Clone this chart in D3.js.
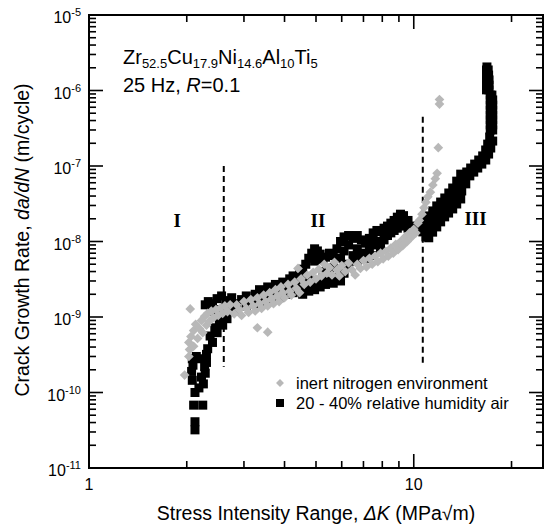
<!DOCTYPE html>
<html>
<head>
<meta charset="utf-8">
<script src="https://cdn.jsdelivr.net/npm/d3@7/dist/d3.min.js"></script>
<style>
body { margin: 0; background: #fff; }
text { font-family: "Liberation Sans", Arial, sans-serif; }
</style>
</head>
<body>
<div id="chart"></div>
<script>
// [deltaK (MPa sqrt m), da/dN (m/cycle)]
var airData = [
	// stage I
	[2.12,3.2e-11],[2.12,4.1e-11],[2.10,6.8e-11],[2.24,6.8e-11],
	[2.12,1.0e-10],[2.18,1.15e-10],[2.25,1.3e-10],[2.08,1.45e-10],[2.22,1.6e-10],[2.28,1.8e-10],
	[2.07,1.9e-10],[2.09,2.3e-10],[2.27,2.2e-10],[2.08,2.8e-10],[2.14,3.0e-10],[2.22,2.8e-10],
	[2.30,2.5e-10],[2.30,3.2e-10],
	[2.32,3.8e-10],[2.40,4.6e-10],[2.36,5.6e-10],[2.48,6.2e-10],[2.44,7.2e-10],[2.58,7.8e-10],
	[2.52,9.0e-10],[2.66,9.5e-10],[2.60,1.1e-9],
	[2.28,1.45e-9],[2.33,1.6e-9],[2.40,1.5e-9],[2.48,1.75e-9],[2.56,1.9e-9],[2.64,1.65e-9],
	[2.70,1.35e-9],[2.38,1.2e-9],[2.50,1.25e-9],
	// stage II
	[2.75,1.3e-9],[2.75,1.8e-9],[2.85,1.5e-9],[2.85,1.2e-9],[2.95,1.7e-9],[3.05,1.4e-9],[3.05,1.9e-9],
	[3.15,1.6e-9],[3.25,2.0e-9],[3.25,1.5e-9],[3.35,1.8e-9],[3.35,2.3e-9],[3.45,1.6e-9],[3.45,2.1e-9],
	[3.55,2.5e-9],[3.55,1.9e-9],[3.65,2.2e-9],[3.65,1.7e-9],[3.75,2.7e-9],[3.75,2.0e-9],[3.85,2.4e-9],
	[3.85,1.8e-9],[3.95,2.9e-9],[3.95,2.2e-9],[4.05,2.6e-9],[4.05,2.0e-9],[4.15,3.2e-9],[4.15,2.3e-9],
	[4.25,3.5e-9],[4.25,2.1e-9],[4.35,3.0e-9],[4.35,2.5e-9],[4.45,3.9e-9],[4.45,2.2e-9],
	[4.55,4.3e-9],[4.55,2.0e-9],[4.55,2.8e-9],[4.65,5.0e-9],[4.65,2.4e-9],[4.75,6.0e-9],[4.75,2.2e-9],
	[4.75,3.2e-9],[4.85,7.0e-9],[4.85,2.6e-9],[4.95,8.0e-9],[4.95,5.5e-9],[4.95,2.3e-9],[5.05,7.5e-9],
	[5.05,3.0e-9],[5.15,6.8e-9],[5.15,2.5e-9],[5.25,5.8e-9],[5.25,3.3e-9],[5.35,6.2e-9],[5.35,2.7e-9],
	[5.35,4.0e-9],[5.5,7.0e-9],[5.5,3.0e-9],[5.65,6.5e-9],[5.65,2.8e-9],[5.65,4.5e-9],[5.8,8.0e-9],
	[5.8,3.3e-9],[5.95,1.0e-8],[5.95,6.0e-9],[5.95,3.0e-9],[6.1,1.15e-8],[6.1,7.5e-9],[6.1,3.8e-9],
	[6.3,1.2e-8],[6.3,9.0e-9],[6.3,5.0e-9],[6.5,1.1e-8],[6.5,6.5e-9],[6.7,1.2e-8],[6.7,8.0e-9],
	[6.7,5.5e-9],[6.9,1.05e-8],[6.9,7.0e-9],[7.1,9.5e-9],[7.1,6.0e-9],[7.3,1.1e-8],[7.3,7.5e-9],
	[7.5,1.3e-8],[7.5,9.0e-9],[7.5,6.5e-9],[7.7,1.4e-8],[7.7,1.0e-8],[7.9,1.35e-8],[7.9,8.5e-9],
	[8.1,1.5e-8],[8.1,1.05e-8],[8.3,1.6e-8],[8.3,1.2e-8],[8.5,1.75e-8],[8.5,1.3e-8],[8.7,1.9e-8],
	[8.7,1.4e-8],[8.9,2.1e-8],[8.9,1.5e-8],[9.1,2.3e-8],[9.1,1.7e-8],[9.3,2.2e-8],[9.3,1.6e-8],
	[9.6,1.9e-8],[9.6,1.5e-8],[9.9,1.6e-8],[9.9,1.4e-8],[10.2,1.5e-8],[10.5,1.6e-8],
	// stage III
	[10.66,1.34e-8],[10.96,1.6e-8],[11.28,1.87e-8],[11.6,2.18e-8],[11.94,2.54e-8],[12.28,2.86e-8],
	[12.64,3.24e-8],[13.0,3.77e-8],[13.37,4.39e-8],[13.75,5.43e-8],[14.15,6.73e-8],
	[10.9,1.15e-8],[11.2,1.38e-8],[11.53,1.6e-8],[11.85,1.87e-8],[12.2,2.18e-8],[12.55,2.46e-8],
	[12.92,2.79e-8],[13.3,3.24e-8],[13.66,3.78e-8],[14.05,4.67e-8],[14.46,5.8e-8],
	[10.5,1.56e-8],[10.8,1.86e-8],[11.12,2.18e-8],[11.44,2.54e-8],[11.77,2.96e-8],[12.1,3.33e-8],
	[12.46,3.77e-8],[12.82,4.39e-8],[13.18,5.11e-8],[13.56,6.3e-8],[13.95,7.8e-8],
	[11.12,1.12e-8],[11.43,1.33e-8],[11.77,1.56e-8],[12.1,1.82e-8],[12.45,2.12e-8],[12.8,2.38e-8],
	[13.18,2.7e-8],[13.56,3.14e-8],[13.95,3.66e-8],
	[14.56,8.33e-8],[14.97,9.4e-8],[15.4,1.06e-7],[15.85,1.2e-7],[16.3,1.36e-7],[16.65,1.63e-7],
	[16.89,1.95e-7],[17.13,2.42e-7],
	[14.88,7.4e-8],[15.3,8.3e-8],[15.74,9.4e-8],[16.2,1.06e-7],[16.66,1.2e-7],[17.0,1.44e-7],
	[17.26,1.73e-7],[17.5,2.14e-7],
	[17.2,3.0e-7],[17.5,3.0e-7],[17.2,3.5e-7],[17.5,3.5e-7],[17.2,4.1e-7],[17.5,4.1e-7],
	[17.2,4.7e-7],[17.5,4.7e-7],[17.2,5.5e-7],[17.5,5.5e-7],[17.2,6.4e-7],[17.5,6.4e-7],
	[17.2,7.5e-7],[17.5,7.5e-7],[17.2,8.7e-7],[17.4,8.7e-7],
	[16.75,1.02e-6],[17.05,1.02e-6],[16.75,1.18e-6],[17.05,1.18e-6],[16.75,1.38e-6],[17.05,1.38e-6],
	[16.75,1.6e-6],[17.0,1.6e-6],[16.75,1.87e-6],[16.95,1.87e-6],[16.8,2.05e-6]
];

var nitrogenData = [
	// stage I
	[1.97,1.7e-10],[2.05,1.28e-9],
	[2.03,3.0e-10],[2.04,3.7e-10],[2.03,4.6e-10],[2.06,5.5e-10],[2.1,4.1e-10],[2.1,6.6e-10],
	[2.13,8.0e-10],[2.16,5.2e-10],[2.19,7.0e-10],[2.22,9.0e-10],[2.24,6.2e-10],[2.27,1.02e-9],
	[2.3,7.8e-10],[2.32,1.12e-9],[2.35,8.8e-10],[2.38,1.2e-9],[2.42,9.8e-10],[2.46,1.25e-9],
	[2.5,1.05e-9],[2.54,1.32e-9],[2.58,1.12e-9],[2.62,1.4e-9],[2.67,1.18e-9],[2.72,1.45e-9],
	// stage II
	[2.8,1.1e-9],[2.85,1.45e-9],[2.9,1.25e-9],[2.95,1.05e-9],[3.0,1.6e-9],[3.05,1.3e-9],[3.1,1.15e-9],
	[3.15,1.7e-9],[3.2,1.4e-9],[3.25,1.2e-9],[3.3,7.2e-10],[3.3,1.8e-9],[3.35,1.5e-9],[3.4,1.3e-9],
	[3.45,1.95e-9],[3.5,1.6e-9],[3.55,6.3e-10],[3.55,1.4e-9],[3.6,2.1e-9],[3.65,1.75e-9],[3.7,1.5e-9],
	[3.75,2.3e-9],[3.8,1.9e-9],[3.85,1.6e-9],[3.9,2.5e-9],[3.95,2.1e-9],[4.0,1.8e-9],[4.1,2.7e-9],
	[4.15,2.2e-9],[4.2,1.95e-9],[4.3,2.9e-9],[4.35,2.4e-9],[4.4,4.4e-9],[4.45,2.1e-9],[4.5,3.2e-9],
	[4.6,2.7e-9],[4.7,3.6e-9],[4.8,2.9e-9],[4.9,3.9e-9],[5.0,3.2e-9],[5.1,4.3e-9],[5.2,3.5e-9],
	[5.3,5.0e-9],[5.4,3.8e-9],[5.5,4.5e-9],[5.6,3.6e-9],[5.7,5.3e-9],[5.8,4.2e-9],[5.9,3.5e-9],
	[6.0,4.8e-9],[6.15,4.0e-9],[6.3,5.2e-9],[6.45,4.2e-9],[6.6,3.6e-9],[6.7,5.0e-9],[6.85,4.4e-9],
	[7.0,5.6e-9],[7.15,4.6e-9],[7.3,6.0e-9],[7.45,5.0e-9],[7.6,6.4e-9],[7.75,5.4e-9],[7.9,7.0e-9],
	[8.05,5.9e-9],[8.2,7.4e-9],[8.35,6.4e-9],[8.5,8.2e-9],[8.65,7.0e-9],[8.8,9.2e-9],[8.95,7.8e-9],
	[9.1,1.0e-8],[9.25,8.8e-9],[9.4,1.15e-8],[9.55,1.0e-8],[9.7,1.3e-8],[9.85,1.15e-8],[10.0,1.45e-8],
	[10.15,1.3e-8],[10.3,1.75e-8],
	// stage III
	[10.4,1.9e-8],[10.6,2.3e-8],[10.75,2.8e-8],[10.9,3.3e-8],[11.05,3.9e-8],[11.25,4.5e-8],
	[11.45,5.6e-8],[11.65,6.8e-8],[11.8,8.0e-8],[11.9,1.75e-7],[12.0,6.6e-7],[12.0,7.6e-7]
];

var xTickLabels = [1, 10];
var xMinorTicks = [2, 3, 4, 5, 6, 7, 8, 9, 20];
var yDecades = [-11, -10, -9, -8, -7, -6, -5];

var stageBounds = [{k: 2.6, top: 1.0e-7}, {k: 10.66, top: 4.5e-7}];
var stageBottom = 2.2e-10;
var stageLabels = [
	{text: "I", k: 1.87, rate: 1.56e-8},
	{text: "II", k: 5.07, rate: 1.56e-8},
	{text: "III", k: 15.5, rate: 1.65e-8}
];

var margin = {top: 15, right: 6, bottom: 59, left: 89},
	W = 549, H = 527,
	w = W - margin.left - margin.right,
	h = H - margin.top - margin.bottom;

var svg = d3.select("#chart")
	.append("svg")
	.attr("width", W)
	.attr("height", H);

var g = svg.append("g")
	.attr("transform", "translate(" + margin.left + "," + margin.top + ")");

var x = d3.scaleLog().domain([1, 25]).range([0, w]);
var y = d3.scaleLog().domain([1e-11, 1e-5]).range([h, 0]);

// ticks, all pointing inward, on four sides
var majorLen = 14, minorLen = 7;
var xTicks = xTickLabels.map(function(v){ return {v: v, len: majorLen}; })
	.concat(xMinorTicks.map(function(v){ return {v: v, len: minorLen}; }));
var yTicks = [];
yDecades.forEach(function(d){
	yTicks.push({v: Math.pow(10, d), len: majorLen});
	if (d < -5) {
		for (var m = 2; m <= 9; m++) yTicks.push({v: m * Math.pow(10, d), len: minorLen});
	}
});

var ticks = g.append("g").attr("stroke", "#000").attr("stroke-width", 1.6);
ticks.selectAll(".xb").data(xTicks).enter().append("line")
	.attr("x1", function(d){ return x(d.v); }).attr("x2", function(d){ return x(d.v); })
	.attr("y1", h).attr("y2", function(d){ return h - d.len; });
ticks.selectAll(".xt").data(xTicks).enter().append("line")
	.attr("x1", function(d){ return x(d.v); }).attr("x2", function(d){ return x(d.v); })
	.attr("y1", 0).attr("y2", function(d){ return d.len; });
ticks.selectAll(".yl").data(yTicks).enter().append("line")
	.attr("y1", function(d){ return y(d.v); }).attr("y2", function(d){ return y(d.v); })
	.attr("x1", 0).attr("x2", function(d){ return d.len; });
ticks.selectAll(".yr").data(yTicks).enter().append("line")
	.attr("y1", function(d){ return y(d.v); }).attr("y2", function(d){ return y(d.v); })
	.attr("x1", w).attr("x2", function(d){ return w - d.len; });

// stage boundaries
g.selectAll(".bound").data(stageBounds).enter().append("line")
	.attr("x1", function(d){ return x(d.k); }).attr("x2", function(d){ return x(d.k); })
	.attr("y1", function(d){ return y(d.top); }).attr("y2", y(stageBottom))
	.attr("stroke", "#000").attr("stroke-width", 2)
	.attr("stroke-dasharray", "6,4");

g.selectAll(".stage").data(stageLabels).enter().append("text")
	.attr("x", function(d){ return x(d.k); })
	.attr("y", function(d){ return y(d.rate); })
	.attr("text-anchor", "middle")
	.style("font-family", "'Liberation Serif', 'Times New Roman', serif")
	.style("font-weight", "bold")
	.style("font-size", "19px")
	.text(function(d){ return d.text; });

// data
var sq = 9;
g.append("g").selectAll("rect").data(airData).enter().append("rect")
	.attr("x", function(d){ return x(d[0]) - sq / 2; })
	.attr("y", function(d){ return y(d[1]) - sq / 2; })
	.attr("width", sq).attr("height", sq)
	.attr("fill", "#000");

var diamond = d3.symbol().type(d3.symbolDiamond2).size(60);
g.append("g").selectAll("path").data(nitrogenData).enter().append("path")
	.attr("d", diamond)
	.attr("transform", function(d){ return "translate(" + x(d[0]) + "," + y(d[1]) + ")"; })
	.attr("fill", "#b8b8b8");

// frame
g.append("rect")
	.attr("width", w).attr("height", h)
	.attr("fill", "none").attr("stroke", "#000").attr("stroke-width", 2);

// tick labels
g.selectAll(".xlab").data(xTickLabels).enter().append("text")
	.attr("x", function(d){ return x(d); })
	.attr("y", h + 22)
	.attr("text-anchor", "middle")
	.style("font-size", "16px")
	.text(function(d){ return d; });

var ylab = g.selectAll(".ylab").data(yDecades).enter().append("text")
	.attr("x", -8)
	.attr("y", function(d){ return y(Math.pow(10, d)) + 8; })
	.attr("text-anchor", "end")
	.style("font-size", "16px");
ylab.append("tspan").text("10");
ylab.append("tspan").attr("dy", -7).style("font-size", "11px").text(function(d){ return d; });

// axis titles
var xt = svg.append("text")
	.attr("x", 316).attr("y", 520)
	.attr("text-anchor", "middle")
	.style("font-size", "19.5px");
xt.append("tspan").text("Stress Intensity Range, ");
xt.append("tspan").style("font-style", "italic").text("\u0394K");
xt.append("tspan").text(" (MPa\u221Am)");

var yt = svg.append("text")
	.attr("transform", "translate(29,240) rotate(-90)")
	.attr("text-anchor", "middle")
	.style("font-size", "19.5px");
yt.append("tspan").text("Crack Growth Rate, ");
yt.append("tspan").style("font-style", "italic").text("da/dN");
yt.append("tspan").text(" (m/cycle)");

// alloy / test conditions
var alloy = [["Zr", "52.5"], ["Cu", "17.9"], ["Ni", "14.6"], ["Al", "10"], ["Ti", "5"]];
var t1 = svg.append("text").attr("x", 123).attr("y", 64).style("font-size", "20px");
alloy.forEach(function(a, i){
	t1.append("tspan").attr("dy", i === 0 ? 0 : -4).text(a[0]);
	t1.append("tspan").attr("dy", 4).style("font-size", "13px").text(a[1]);
});
var t2 = svg.append("text").attr("x", 123).attr("y", 92).style("font-size", "20px");
t2.append("tspan").text("25 Hz, ");
t2.append("tspan").style("font-style", "italic").text("R");
t2.append("tspan").text("=0.1");

// legend
var legend = svg.append("g").attr("transform", "translate(280,383)");
legend.append("path").attr("d", d3.symbol().type(d3.symbolDiamond2).size(40))
	.attr("fill", "#b8b8b8");
legend.append("rect").attr("x", -4).attr("y", 16).attr("width", 8).attr("height", 8).attr("fill", "#000");
legend.append("text").attr("x", 16).attr("y", 6).style("font-size", "16.5px").text("inert nitrogen environment");
legend.append("text").attr("x", 16).attr("y", 26).style("font-size", "16.5px").text("20 - 40% relative humidity air");
</script>
</body>
</html>
